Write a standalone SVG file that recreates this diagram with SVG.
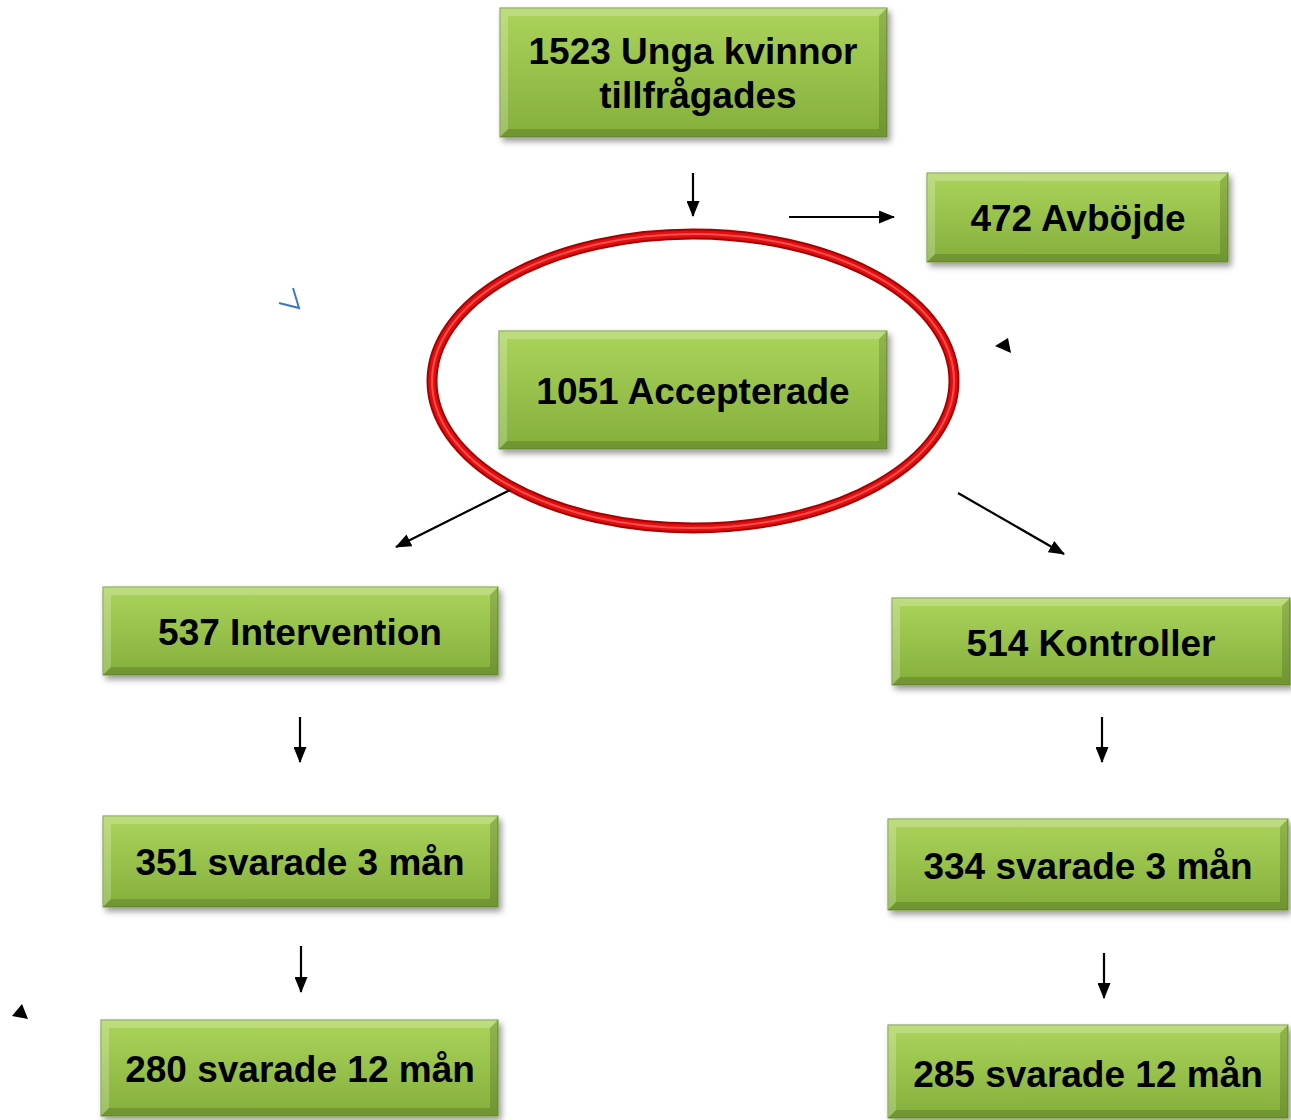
<svg xmlns="http://www.w3.org/2000/svg" width="1291" height="1120" viewBox="0 0 1291 1120">
<defs>
<linearGradient id="g" x1="0" y1="0" x2="0" y2="1">
<stop offset="0" stop-color="#acd45c"/>
<stop offset="1" stop-color="#84af3b"/>
</linearGradient>
<filter id="sh" x="-10%" y="-10%" width="125%" height="130%">
<feDropShadow dx="3" dy="4" stdDeviation="3" flood-color="#000" flood-opacity="0.4"/>
</filter>
<marker id="ah" markerWidth="16" markerHeight="13" refX="15" refY="6.5" orient="auto" markerUnits="userSpaceOnUse">
<path d="M0,0 L16,6.5 L0,13 Z" fill="#000"/>
</marker>
</defs>
<style>
.box{fill:url(#g);stroke:#6f9535;stroke-width:1;filter:url(#sh)}
.lt{fill:#fff;opacity:0.22}
.dk{fill:#000;opacity:0.15}
.t{font-family:"Liberation Sans",Arial,sans-serif;font-weight:bold;font-size:37px;fill:#000;text-anchor:middle}
.c{stroke:#000;stroke-width:2.2;fill:none;marker-end:url(#ah)}
</style>
<rect width="1291" height="1120" fill="#fff"/>

<g id="ring">
<ellipse cx="693" cy="381" rx="261" ry="147" fill="none" stroke="#a80000" stroke-width="11"/>
<ellipse cx="693" cy="381" rx="261" ry="147" fill="none" stroke="#e01010" stroke-width="7"/>
<ellipse cx="693" cy="381" rx="261" ry="147" fill="none" stroke="#ff5a5a" stroke-width="2" opacity="0.8"/>
</g>

<g id="n1">
<rect class="box" x="500" y="8" width="387" height="129"/>
<polygon class="lt" points="500,8 887,8 879,16 508,16"/>
<polygon class="lt" points="500,8 508,16 508,129 500,137"/>
<polygon class="dk" points="887,8 887,137 879,129 879,16"/>
<polygon class="dk" points="500,137 887,137 879,129 508,129"/>
<text class="t" x="693" y="64">1523 Unga kvinnor</text>
<text class="t" x="698" y="108">tillfrågades</text>
</g>

<g id="n2">
<rect class="box" x="927" y="173" width="301" height="89"/>
<polygon class="lt" points="927,173 1228,173 1220,181 935,181"/>
<polygon class="lt" points="927,173 935,181 935,254 927,262"/>
<polygon class="dk" points="1228,173 1228,262 1220,254 1220,181"/>
<polygon class="dk" points="927,262 1228,262 1220,254 935,254"/>
<text class="t" x="1078" y="231">472 Avböjde</text>
</g>

<g id="n3">
<rect class="box" x="499" y="331" width="388" height="118"/>
<polygon class="lt" points="499,331 887,331 879,339 507,339"/>
<polygon class="lt" points="499,331 507,339 507,441 499,449"/>
<polygon class="dk" points="887,331 887,449 879,441 879,339"/>
<polygon class="dk" points="499,449 887,449 879,441 507,441"/>
<text class="t" x="693" y="404">1051 Accepterade</text>
</g>

<g id="n4">
<rect class="box" x="103" y="587" width="395" height="88"/>
<polygon class="lt" points="103,587 498,587 490,595 111,595"/>
<polygon class="lt" points="103,587 111,595 111,667 103,675"/>
<polygon class="dk" points="498,587 498,675 490,667 490,595"/>
<polygon class="dk" points="103,675 498,675 490,667 111,667"/>
<text class="t" x="300" y="645">537 Intervention</text>
</g>

<g id="n5">
<rect class="box" x="892" y="598" width="398" height="87"/>
<polygon class="lt" points="892,598 1290,598 1282,606 900,606"/>
<polygon class="lt" points="892,598 900,606 900,677 892,685"/>
<polygon class="dk" points="1290,598 1290,685 1282,677 1282,606"/>
<polygon class="dk" points="892,685 1290,685 1282,677 900,677"/>
<text class="t" x="1091" y="656">514 Kontroller</text>
</g>

<g id="n6">
<rect class="box" x="103" y="816" width="395" height="91"/>
<polygon class="lt" points="103,816 498,816 490,824 111,824"/>
<polygon class="lt" points="103,816 111,824 111,899 103,907"/>
<polygon class="dk" points="498,816 498,907 490,899 490,824"/>
<polygon class="dk" points="103,907 498,907 490,899 111,899"/>
<text class="t" x="300" y="875">351 svarade 3 mån</text>
</g>

<g id="n7">
<rect class="box" x="888" y="819" width="400" height="91"/>
<polygon class="lt" points="888,819 1288,819 1280,827 896,827"/>
<polygon class="lt" points="888,819 896,827 896,902 888,910"/>
<polygon class="dk" points="1288,819 1288,910 1280,902 1280,827"/>
<polygon class="dk" points="888,910 1288,910 1280,902 896,902"/>
<text class="t" x="1088" y="879">334 svarade 3 mån</text>
</g>

<g id="n8">
<rect class="box" x="101" y="1020" width="397" height="96"/>
<polygon class="lt" points="101,1020 498,1020 490,1028 109,1028"/>
<polygon class="lt" points="101,1020 109,1028 109,1108 101,1116"/>
<polygon class="dk" points="498,1020 498,1116 490,1108 490,1028"/>
<polygon class="dk" points="101,1116 498,1116 490,1108 109,1108"/>
<text class="t" x="300" y="1082">280 svarade 12 mån</text>
</g>

<g id="n9">
<rect class="box" x="888" y="1025" width="400" height="93"/>
<polygon class="lt" points="888,1025 1288,1025 1280,1033 896,1033"/>
<polygon class="lt" points="888,1025 896,1033 896,1110 888,1118"/>
<polygon class="dk" points="1288,1025 1288,1118 1280,1110 1280,1033"/>
<polygon class="dk" points="888,1118 1288,1118 1280,1110 896,1110"/>
<text class="t" x="1088" y="1087">285 svarade 12 mån</text>
</g>

<g id="connectors">
<line class="c" x1="693" y1="173" x2="693" y2="216"/>
<line class="c" x1="789" y1="217" x2="894" y2="217"/>
<line class="c" x1="510" y1="490" x2="396" y2="547"/>
<line class="c" x1="958" y1="493" x2="1064" y2="554"/>
<line class="c" x1="300" y1="717" x2="300" y2="762"/>
<line class="c" x1="1102" y1="717" x2="1102" y2="762"/>
<line class="c" x1="301" y1="946" x2="301" y2="992"/>
<line class="c" x1="1104" y1="953" x2="1104" y2="998"/>
</g>

<g id="marks">
<polygon points="995,346 1008,338 1011,353" fill="#000"/>
<polygon points="12,1016 22,1004 28,1019" fill="#000"/>
<polyline points="279,303 299,308 293,288" fill="none" stroke="#3a78c0" stroke-width="2"/>
</g>
</svg>
